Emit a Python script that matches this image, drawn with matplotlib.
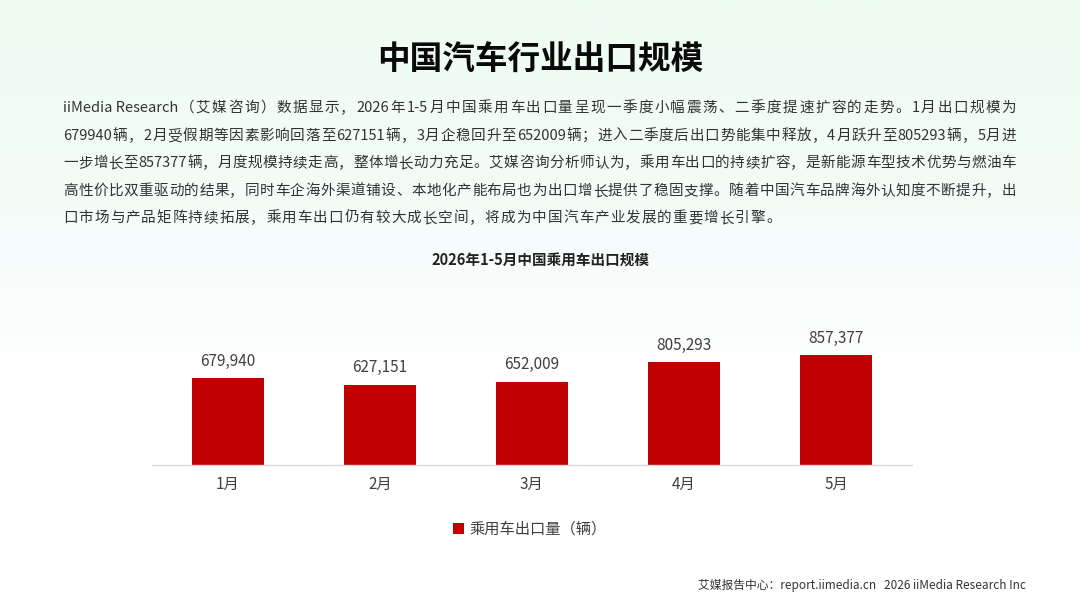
import re
import numpy as np
import matplotlib
matplotlib.use('Agg')
import matplotlib.pyplot as plt
from matplotlib.colors import LinearSegmentedColormap

plt.rcParams['font.family'] = ['Noto Sans CJK SC', 'DejaVu Sans']

# data
months = ['1月', '2月', '3月', '4月', '5月']
exports = [679940, 627151, 652009, 805293, 857377]
series_name = '乘用车出口量（辆）'

title = '中国汽车行业出口规模'
subtitle = '2026年1-5月中国乘用车出口规模'
paragraph = [
    'iiMedia Research（艾媒咨询）数据显示，2026年1-5月中国乘用车出口量呈现一季度小幅震荡、二季度提速扩容的走势。1月出口规模为',
    '679940辆，2月受假期等因素影响回落至627151辆，3月企稳回升至652009辆；进入二季度后出口势能集中释放，4月跃升至805293辆，5月进',
    '一步增长至857377辆，月度规模持续走高，整体增长动力充足。艾媒咨询分析师认为，乘用车出口的持续扩容，是新能源车型技术优势与燃油车',
    '高性价比双重驱动的结果，同时车企海外渠道铺设、本地化产能布局也为出口增长提供了稳固支撑。随着中国汽车品牌海外认知度不断提升，出',
    '口市场与产品矩阵持续拓展，乘用车出口仍有较大成长空间，将成为中国汽车产业发展的重要增长引擎。',
]
footer = '艾媒报告中心：report.iimedia.cn   2026 iiMedia Research Inc'

W, H = 1080, 608
fig = plt.figure(figsize=(W / 100, H / 100), dpi=100)


def fy(py):
    # pixel row from top -> figure fraction
    return 1 - py / H


# background gradient (faint mint at top fading to white)
bg = fig.add_axes([0, 0, 1, 1], zorder=-10)
bg.axis('off')
cmap = LinearSegmentedColormap.from_list(
    'bg', [(0, '#eefcf2'), (0.3, '#f3fcf6'), (0.4, '#f6fdfc'),
           (0.5, '#f9fcfb'), (0.62, '#ffffff'), (1, '#ffffff')])
grad = np.linspace(0, 1, 300).reshape(-1, 1)
bg.imshow(grad, aspect='auto', cmap=cmap, extent=[0, 1, 0, 1], vmin=0, vmax=1)
bg.set_xlim(0, 1)
bg.set_ylim(0, 1)

fig.text(0.5, fy(60), title, ha='center', va='center', fontsize=23.5,
         fontweight='heavy', color='#0a0a0a')

# paragraph, justified token by token (latin runs kept together)
renderer = fig.canvas.get_renderer()
x0, x1 = 63, 1016
para_y = [108, 136, 163, 191, 218]
para_fs = 10.5
for i, line in enumerate(paragraph):
    tokens = re.findall(r'[A-Za-z0-9\- ]+|.', line)
    texts = []
    widths = []
    for tok in tokens:
        t = fig.text(0, fy(para_y[i]), tok, fontsize=para_fs, color='#333333',
                     ha='left', va='center')
        texts.append(t)
        widths.append(t.get_window_extent(renderer).width)
    if i < len(paragraph) - 1:
        gap = (x1 - x0 - sum(widths)) / (len(tokens) - 1)
    else:
        gap = 1.0
    x = x0
    for t, w in zip(texts, widths):
        t.set_x(x / W)
        x += w + gap

fig.text(540 / W, fy(260), subtitle, ha='center', va='center', fontsize=10.5,
         fontweight='bold', color='#222222')

# bar chart
ax = fig.add_axes([151.7 / W, 1 - 465 / H, (912 - 151.7) / W, (465 - 330) / H])
ax.patch.set_alpha(0)
xs = np.arange(len(months))
bars = ax.bar(xs, exports, width=0.475, color='#c00000', label=series_name)
ax.set_xlim(-0.5, len(months) - 0.5)
ax.set_ylim(0, 1055000)
for b, v in zip(bars, exports):
    ax.annotate(f'{v:,}', (b.get_x() + b.get_width() / 2, v), xytext=(0, 6),
                textcoords='offset points', ha='center', va='bottom',
                fontsize=11, color='#404040')
ax.set_xticks(xs)
ax.set_xticklabels(months, fontsize=11, color='#404040')
ax.tick_params(axis='x', length=0, pad=8)
ax.set_yticks([])
for s in ['top', 'right', 'left']:
    ax.spines[s].set_visible(False)
ax.spines['bottom'].set_color('#d9d9d9')
ax.spines['bottom'].set_linewidth(1)

fig.legend(handles=[bars], labels=[series_name], loc='center',
           bbox_to_anchor=(530 / W, fy(529)), frameon=False, fontsize=11,
           handlelength=0.7, handleheight=0.7, handletextpad=0.4,
           labelcolor='#404040')

fig.text(1026 / W, fy(585), footer, ha='right', va='center', fontsize=8.5,
         color='#333333')

fig.savefig('out.png', dpi=100)
